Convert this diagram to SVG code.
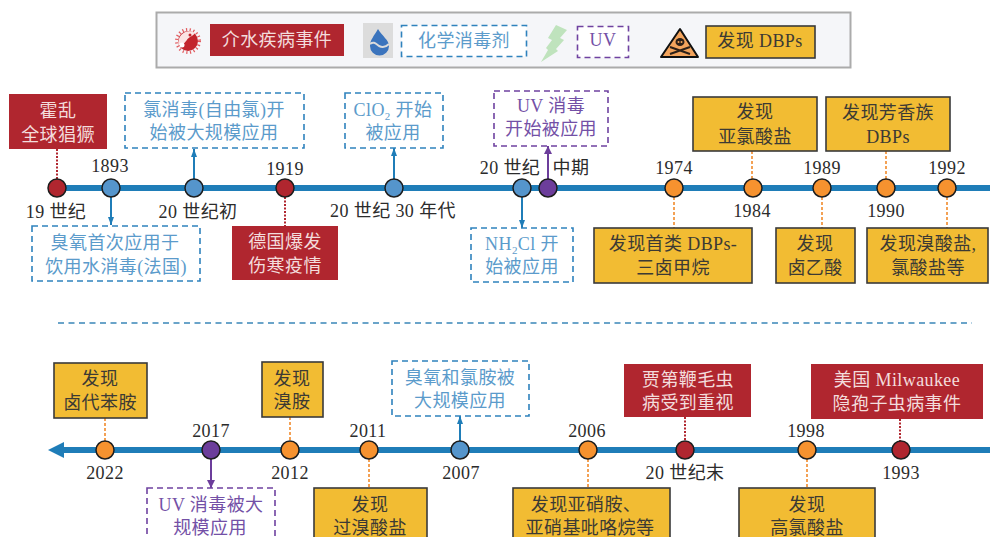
<svg xmlns="http://www.w3.org/2000/svg" width="990" height="537" viewBox="0 0 990 537">
<style>
text{font-family:"Liberation Serif","Noto Sans CJK SC",serif;font-size:18px;letter-spacing:.4px;text-anchor:middle}
.lab{fill:#2b2b2b}
.r{fill:#b0262f}.rt{fill:#f3dcdc}
.b{fill:#fff;stroke:#2f82bd;stroke-width:1.6;stroke-dasharray:6 4}.bt{fill:#5b9bcb}
.p{fill:#fff;stroke:#6f42a0;stroke-width:1.6;stroke-dasharray:6 4}.pt{fill:#7350a6}
.y{fill:#f2bc33;stroke:#3a3a3a;stroke-width:1.6}.yt{fill:#3c3a34}
.axis{stroke:#1f7db8;stroke-width:6;fill:none}
.n{stroke:#1d1d1d;stroke-width:1.5}
.nr{fill:#b0262f}.nb{fill:#5595cc}.np{fill:#6c3d9b}.no{fill:#f6922f}
.cb{stroke:#1f7db8;stroke-width:2;fill:none}
.cp{stroke:#6c3d9b;stroke-width:2;fill:none}
.cr{stroke:#b0262f;stroke-width:2;stroke-dasharray:2 1.5;fill:none}
.co{stroke:#f08a2c;stroke-width:1.6;stroke-dasharray:3 2;fill:none}
</style>
<defs>
<marker id="ab" markerUnits="userSpaceOnUse" markerWidth="9" markerHeight="6" refX="8" refY="3" orient="auto"><path d="M0 0L8 3L0 6z" fill="#1f7db8"/></marker>
<marker id="ap" markerUnits="userSpaceOnUse" markerWidth="9" markerHeight="8" refX="8" refY="4" orient="auto"><path d="M0 0L8 4L0 8z" fill="#6c3d9b"/></marker>
</defs>
<g id="legend">
<rect x="156.500" y="12.500" width="694" height="55" fill="#f5f6f9" stroke="#ababab" stroke-width="2"/>
<g id="legend-virus">
<circle cx="188" cy="41" r="11.500" fill="none" stroke="#e25a5e" stroke-width="3" stroke-dasharray="1.200 2.500"/>
<circle cx="188" cy="41" r="10" fill="#c3242c"/>
<path d="M178.500 45C185 46 186 39 190 37C194 35 196 33 193 32C186 29 177 35 178.500 45z" fill="#fbe4e4"/>
<circle cx="182" cy="45" r="2.500" fill="#fff"/><circle cx="190" cy="35" r="1.500" fill="#c3242c"/>
</g>
<g id="legend-event"><rect class="r" x="210" y="24" width="134" height="32"/><text class="rt" x="277" y="46">介水疾病事件</text></g>
<g id="legend-drop">
<rect x="363" y="23" width="30" height="35" fill="#dcdcdc"/>
<path d="M378 29C374 36 370 40 370 46A9.500 9.500 0 0 0 389 46C389 40 382 36 378 29z" fill="#3b74bd"/>
<path d="M370 44C374 41 376 44 379 46C383 48 386 47 389 44" fill="none" stroke="#dcdcdc" stroke-width="2"/>
</g>
<g id="legend-chem"><rect class="b" x="401.500" y="25.500" width="125" height="31"/><text class="bt" x="464" y="47">化学消毒剂</text></g>
<path id="legend-bolt" d="M556 25L567 30L560 38L564 40L556 49L558 51L541 62L548 50L546 48L552 40L548 38z" fill="#bfe3bd"/>
<g id="legend-uv"><rect class="p" x="577.500" y="26.500" width="51" height="31"/><text class="pt" x="603" y="46">UV</text></g>
<g id="legend-hazard">
<path d="M680 29L698 57H661z" fill="#f3a45d" stroke="#111" stroke-width="2" stroke-linejoin="round"/>
<ellipse cx="680" cy="42" rx="4.500" ry="4" fill="#2c2018"/>
<path d="M670 47L690 54M690 47L670 54" stroke="#2c2018" stroke-width="2"/>
<circle cx="678.500" cy="42" r="1" fill="#f3a45d"/><circle cx="681.500" cy="42" r="1" fill="#f3a45d"/>
</g>
<g id="legend-dbp"><rect class="y" x="706" y="26" width="109" height="32"/><text class="yt" x="760" y="47">发现 DBPs</text></g>
</g>

<line x1="58" y1="323" x2="972" y2="323" stroke="#3a86b8" stroke-width="1.300" stroke-dasharray="6 4.500"/>

<g id="connectors">
<path class="axis" d="M57 188H990"/>
<path class="axis" d="M62 450H990"/>
<path d="M48 450L64 442V458z" fill="#1f7db8"/>
<path class="cr" d="M57 149V179"/>
<path class="cb" d="M111 197V225" marker-end="url(#ab)"/>
<path class="cb" d="M194 179V149" marker-end="url(#ab)"/>
<path class="cr" d="M285 197V226"/>
<path class="cb" d="M394 179V148" marker-end="url(#ab)"/>
<path class="cb" d="M522 197V228" marker-end="url(#ab)"/>
<path class="cp" d="M548 179V146" marker-end="url(#ap)"/>
<path class="co" d="M674 197V228"/>
<path class="co" d="M752 151V179"/>
<path class="co" d="M822 197V228"/>
<path class="co" d="M886 151V179"/>
<path class="co" d="M947 197V228"/>
<path class="co" d="M105 418V441"/>
<path class="cp" d="M211 459V488" marker-end="url(#ap)"/>
<path class="co" d="M290 417V441"/>
<path class="co" d="M369 459V488"/>
<path class="cb" d="M460 441V416" marker-end="url(#ab)"/>
<path class="co" d="M588 459V488"/>
<path class="cr" d="M685 417V441"/>
<path class="co" d="M807 459V488"/>
<path class="cr" d="M900 419V441"/>
</g>

<g id="n-19c"><circle class="n nr" cx="57" cy="188" r="9"/><text class="lab" x="56" y="218">19 世纪</text>
<rect class="r" x="9" y="94" width="98" height="55"/><text class="rt" x="58" y="117">霍乱</text><text class="rt" x="58" y="141">全球猖獗</text></g>
<g id="n-1893"><circle class="n nb" cx="111" cy="188" r="9"/><text class="lab" x="110" y="172">1893</text>
<rect class="b" x="32" y="226" width="168" height="55"/><text class="bt" x="115" y="249">臭氧首次应用于</text><text class="bt" x="116" y="273">饮用水消毒(法国)</text></g>
<g id="n-20c-early"><circle class="n nb" cx="194" cy="188" r="9"/><text class="lab" x="198" y="218">20 世纪初</text>
<rect class="b" x="125" y="93" width="179" height="55"/><text class="bt" x="214" y="116">氯消毒(自由氯)开</text><text class="bt" x="214" y="139">始被大规模应用</text></g>
<g id="n-1919"><circle class="n nr" cx="285" cy="188" r="9"/><text class="lab" x="285" y="175">1919</text>
<rect class="r" x="232" y="226" width="106" height="54"/><text class="rt" x="285" y="248">德国爆发</text><text class="rt" x="285" y="272">伤寒疫情</text></g>
<g id="n-1930s"><circle class="n nb" cx="394" cy="188" r="9"/><text class="lab" x="393" y="217">20 世纪 30 年代</text>
<rect class="b" x="345" y="93" width="98" height="55"/><text class="bt" x="393" y="116">ClO<tspan font-size="11" dy="4">2</tspan><tspan dy="-4"> 开始</tspan></text><text class="bt" x="393" y="139">被应用</text></g>
<g id="n-20c-mid-b"><circle class="n nb" cx="522" cy="188" r="9"/><text class="lab" x="510" y="174">20 世纪</text>
<rect class="b" x="471" y="228" width="102" height="54"/><text class="bt" x="522" y="250">NH<tspan font-size="11" dy="4">2</tspan><tspan dy="-4">Cl 开</tspan></text><text class="bt" x="522" y="273">始被应用</text></g>
<g id="n-20c-mid-p"><circle class="n np" cx="548" cy="188" r="9"/><text class="lab" x="571" y="174">中期</text>
<rect class="p" x="494" y="91" width="114" height="55"/><text class="pt" x="551" y="112">UV 消毒</text><text class="pt" x="551" y="135">开始被应用</text></g>
<g id="n-1974"><circle class="n no" cx="674" cy="188" r="9"/><text class="lab" x="674" y="174">1974</text>
<rect class="y" x="594" y="228" width="158" height="55"/><text class="yt" x="673" y="250">发现首类 DBPs-</text><text class="yt" x="673" y="274">三卤甲烷</text></g>
<g id="n-1984"><circle class="n no" cx="753" cy="188" r="9"/><text class="lab" x="752" y="217">1984</text>
<rect class="y" x="693" y="97" width="124" height="54"/><text class="yt" x="755" y="118">发现</text><text class="yt" x="755" y="143">亚氯酸盐</text></g>
<g id="n-1989"><circle class="n no" cx="822" cy="188" r="9"/><text class="lab" x="822" y="174">1989</text>
<rect class="y" x="776" y="228" width="79" height="55"/><text class="yt" x="815" y="250">发现</text><text class="yt" x="815" y="274">卤乙酸</text></g>
<g id="n-1990"><circle class="n no" cx="886" cy="188" r="9"/><text class="lab" x="886" y="217">1990</text>
<rect class="y" x="826" y="97" width="124" height="54"/><text class="yt" x="888" y="119">发现芳香族</text><text class="yt" x="888" y="143">DBPs</text></g>
<g id="n-1992"><circle class="n no" cx="947" cy="188" r="9"/><text class="lab" x="947" y="174">1992</text>
<rect class="y" x="867" y="228" width="121" height="55"/><text class="yt" x="928" y="250">发现溴酸盐,</text><text class="yt" x="928" y="274">氯酸盐等</text></g>

<g id="n-2022"><circle class="n no" cx="105" cy="450" r="9"/><text class="lab" x="105" y="479">2022</text>
<rect class="y" x="54" y="363" width="93" height="55"/><text class="yt" x="100" y="385">发现</text><text class="yt" x="100" y="409">卤代苯胺</text></g>
<g id="n-2017"><circle class="n np" cx="211" cy="450" r="9"/><text class="lab" x="211" y="437">2017</text>
<rect class="p" x="147" y="488" width="128" height="55"/><text class="pt" x="211" y="511">UV 消毒被大</text><text class="pt" x="210" y="534">规模应用</text></g>
<g id="n-2012"><circle class="n no" cx="290" cy="450" r="9"/><text class="lab" x="290" y="479">2012</text>
<rect class="y" x="262" y="362" width="61" height="55"/><text class="yt" x="292" y="385">发现</text><text class="yt" x="292" y="408">溴胺</text></g>
<g id="n-2011"><circle class="n no" cx="369" cy="450" r="9"/><text class="lab" x="368" y="437">2011</text>
<rect class="y" x="314" y="488" width="113" height="55"/><text class="yt" x="370" y="511">发现</text><text class="yt" x="370" y="534">过溴酸盐</text></g>
<g id="n-2007"><circle class="n nb" cx="460" cy="450" r="9"/><text class="lab" x="461" y="479">2007</text>
<rect class="b" x="392" y="361" width="137" height="55"/><text class="bt" x="460" y="384">臭氧和氯胺被</text><text class="bt" x="460" y="407">大规模应用</text></g>
<g id="n-2006"><circle class="n no" cx="588" cy="450" r="9"/><text class="lab" x="587" y="437">2006</text>
<rect class="y" x="513" y="488" width="157" height="55"/><text class="yt" x="586" y="511">发现亚硝胺、</text><text class="yt" x="590" y="534">亚硝基吡咯烷等</text></g>
<g id="n-20c-end"><circle class="n nr" cx="685" cy="450" r="9"/><text class="lab" x="685" y="479">20 世纪末</text>
<rect class="r" x="624" y="364" width="127" height="53"/><text class="rt" x="688" y="386">贾第鞭毛虫</text><text class="rt" x="688" y="409">病受到重视</text></g>
<g id="n-1998"><circle class="n no" cx="807" cy="450" r="9"/><text class="lab" x="806" y="437">1998</text>
<rect class="y" x="739" y="488" width="136" height="55"/><text class="yt" x="807" y="511">发现</text><text class="yt" x="807" y="534">高氯酸盐</text></g>
<g id="n-1993"><circle class="n nr" cx="901" cy="450" r="9"/><text class="lab" x="901" y="479">1993</text>
<rect class="r" x="811" y="364" width="172" height="55"/><text class="rt" x="897" y="386">美国 Milwaukee</text><text class="rt" x="897" y="410">隐孢子虫病事件</text></g>
</svg>
